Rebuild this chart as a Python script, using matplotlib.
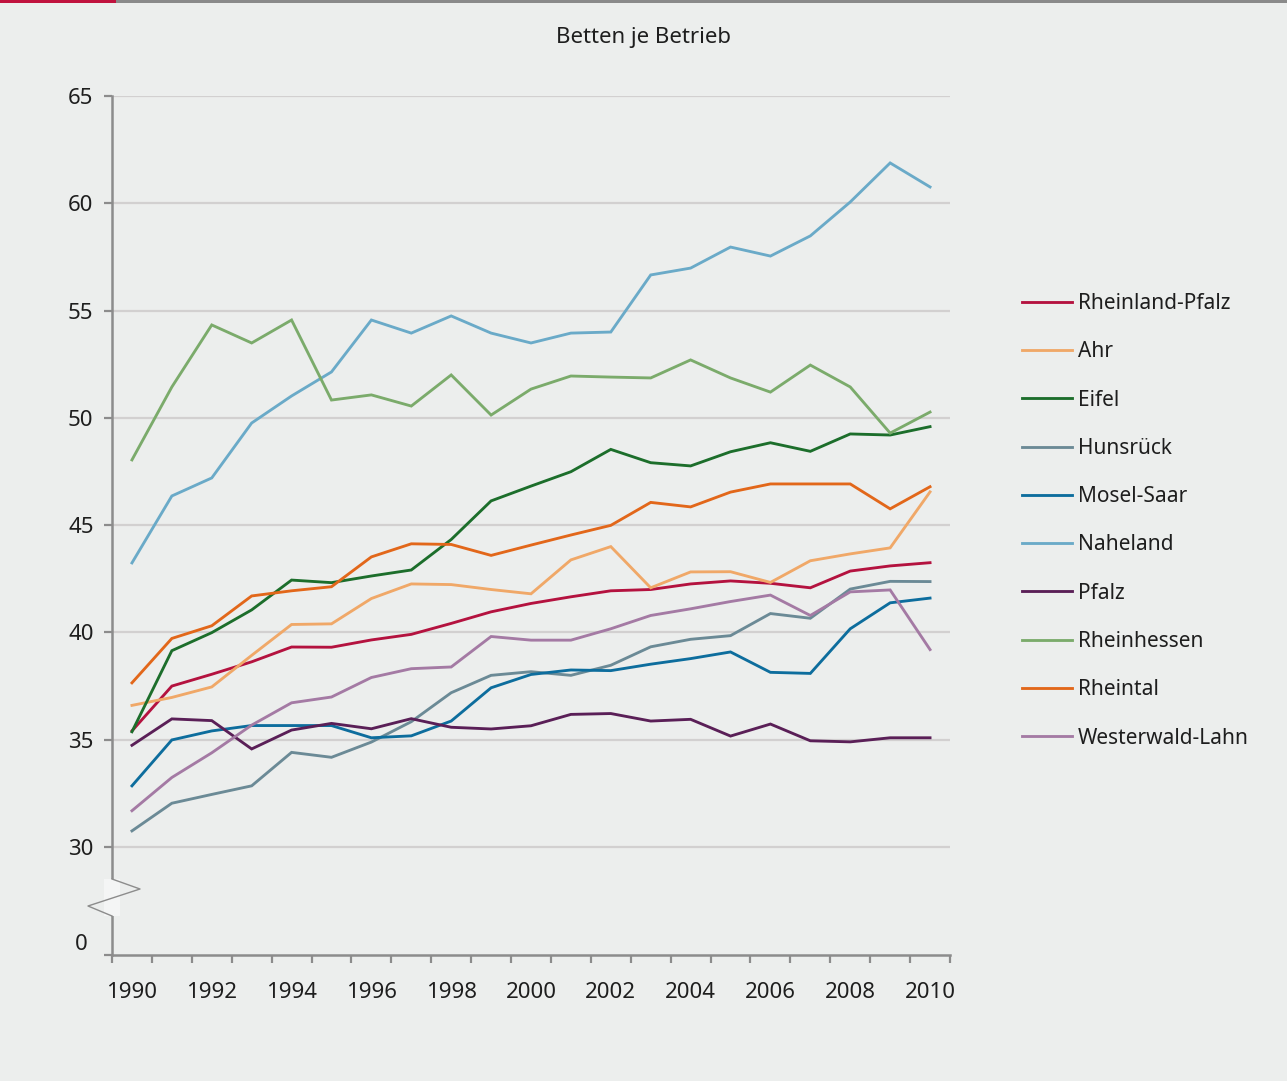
import matplotlib
matplotlib.use("Agg")
import matplotlib.pyplot as plt
from matplotlib.lines import Line2D
from matplotlib.patches import Rectangle
import numpy as np

plt.rcParams['font.family'] = ['Noto Sans', 'DejaVu Sans']

years = list(range(1990, 2011))

rheinland_pfalz = [35.41, 37.50, 38.05, 38.63, 39.32, 39.31, 39.65, 39.91, 40.42, 40.96, 41.35,
                   41.66, 41.94, 42.00, 42.26, 42.40, 42.29, 42.08, 42.86, 43.10, 43.25]
ahr = [36.60, 36.97, 37.46, 38.93, 40.37, 40.40, 41.58, 42.26, 42.23, 42.00, 41.80,
       43.38, 44.00, 42.08, 42.82, 42.83, 42.33, 43.34, 43.66, 43.94, 46.55]
eifel = [35.37, 39.15, 39.99, 41.05, 42.44, 42.32, 42.63, 42.91, 44.33, 46.13, 46.82,
         47.49, 48.53, 47.91, 47.76, 48.42, 48.84, 48.44, 49.25, 49.20, 49.59]
hunsrueck = [30.75, 32.04, 32.45, 32.85, 34.41, 34.18, 34.89, 35.84, 37.19, 38.00, 38.17,
             38.00, 38.47, 39.33, 39.68, 39.85, 40.88, 40.66, 42.02, 42.38, 42.37]
mosel_saar = [32.85, 34.99, 35.41, 35.66, 35.66, 35.66, 35.09, 35.18, 35.87, 37.42, 38.04,
              38.25, 38.22, 38.52, 38.78, 39.09, 38.14, 38.09, 40.17, 41.38, 41.60]
naheland = [43.24, 46.36, 47.20, 49.76, 51.02, 52.14, 54.56, 53.95, 54.75, 53.95, 53.49,
            53.95, 54.00, 56.66, 56.98, 57.96, 57.54, 58.48, 60.06, 61.88, 60.76]
pfalz = [34.74, 35.97, 35.89, 34.57, 35.45, 35.76, 35.51, 35.98, 35.58, 35.50, 35.65,
         36.18, 36.22, 35.87, 35.95, 35.17, 35.73, 34.95, 34.90, 35.09, 35.09]
rheinhessen = [48.04, 51.44, 54.33, 53.49, 54.56, 50.83, 51.07, 50.55, 52.00, 50.13, 51.34,
               51.95, 51.90, 51.86, 52.70, 51.86, 51.20, 52.46, 51.44, 49.29, 50.27]
rheintal = [37.65, 39.72, 40.31, 41.70, 41.94, 42.13, 43.52, 44.13, 44.10, 43.59, 44.07,
            44.54, 44.99, 46.06, 45.85, 46.54, 46.92, 46.92, 46.92, 45.76, 46.79]
westerwald_lahn = [31.69, 33.24, 34.39, 35.68, 36.72, 36.99, 37.90, 38.31, 38.39, 39.81, 39.64,
                   39.64, 40.17, 40.79, 41.10, 41.44, 41.74, 40.79, 41.89, 41.98, 39.20]

series_names = ["Rheinland-Pfalz", "Ahr", "Eifel", "Hunsrück", "Mosel-Saar", "Naheland",
                "Pfalz", "Rheinhessen", "Rheintal", "Westerwald-Lahn"]
series_values = [rheinland_pfalz, ahr, eifel, hunsrueck, mosel_saar, naheland,
                 pfalz, rheinhessen, rheintal, westerwald_lahn]
series_colors = ["#b4123f", "#f0a868", "#1c6e2b", "#6b8a96", "#0d6d9d", "#6aaac8",
                 "#5a1f57", "#7bab6b", "#e2671a", "#a47aa4"]

y_ticks = [30, 35, 40, 45, 50, 55, 60, 65]
x_label_years = list(range(1990, 2011, 2))
title = "Betten je Betrieb"

W, H = 1287, 1081
BG = "#eceeed"
AXC = "#8c8c8c"
TXT = "#1e1e1e"

fig = plt.figure(figsize=(W / 100, H / 100), dpi=100, facecolor=BG)

def fx(px):
    return px / W

def fy(py):
    return 1 - py / H

ax = fig.add_axes([fx(112), fy(955), fx(950) - fx(112), fy(96) - fy(955)])
ax.set_facecolor(BG)

PX_PER_UNIT = 751 / 35
y_bottom = 30 - (955 - 847) / PX_PER_UNIT
ax.set_xlim(1989.5, 2010.5)
ax.set_ylim(y_bottom, 65)

for yt in y_ticks:
    ax.axhline(yt, color="#d2d0d0", lw=1.6, zorder=1)

for name, vals, col in zip(series_names, series_values, series_colors):
    ax.plot(years, vals, color=col, lw=2.05, label=name, zorder=3,
            solid_joinstyle="miter")

for s in ["top", "right"]:
    ax.spines[s].set_visible(False)
for s in ["left", "bottom"]:
    ax.spines[s].set_color(AXC)
    ax.spines[s].set_linewidth(1.8)
    ax.spines[s].set_zorder(4)

ax.set_yticks(y_ticks)
ax.set_yticklabels([str(v) for v in y_ticks])
ax.set_yticks([y_bottom], minor=True)
ax.tick_params(axis="y", which="both", direction="out", length=5.8, width=1.6,
               color=AXC, labelsize=16, labelcolor=TXT, pad=7.5)

ax.set_xticks(x_label_years)
ax.set_xticklabels([str(v) for v in x_label_years])
ax.set_xticks(np.arange(1989.5, 2011.0, 1.0), minor=True)
ax.tick_params(axis="x", which="major", length=0, labelsize=16, labelcolor=TXT, pad=19.5)
ax.tick_params(axis="x", which="minor", direction="out", length=5.8, width=1.6, color=AXC)

# "0" label below the axis break
ax.text(-0.029, 30 - 98 / PX_PER_UNIT, "0", transform=ax.get_yaxis_transform(),
        ha="right", va="center", fontsize=16, color=TXT)

# axis break symbol
fig.add_artist(Rectangle((fx(104), fy(916)), fx(120) - fx(104), fy(879) - fy(916),
                         transform=fig.transFigure, facecolor="#f4f5f5", edgecolor="none",
                         zorder=5))
fig.add_artist(Line2D([fx(112), fx(140), fx(88), fx(112)],
                      [fy(879), fy(889), fy(906), fy(916)],
                      transform=fig.transFigure, color=AXC, lw=1.0, zorder=6))

# top bar
fig.add_artist(Rectangle((0, fy(3)), 1, fy(0) - fy(3), transform=fig.transFigure,
                         facecolor="#8a8a8a", edgecolor="none"))
fig.add_artist(Rectangle((0, fy(3)), fx(116), fy(0) - fy(3), transform=fig.transFigure,
                         facecolor="#c0123e", edgecolor="none"))

fig.text(0.5, fy(38), title, ha="center", va="center", fontsize=16, color=TXT)

leg = fig.legend(loc="upper left", bbox_to_anchor=(fx(1022), fy(293)),
                 frameon=False, fontsize=15, handlelength=2.4, handletextpad=0.3,
                 labelspacing=1.31, borderpad=0, borderaxespad=0)
for t in leg.get_texts():
    t.set_color(TXT)
for l in leg.get_lines():
    l.set_linewidth(2.05)

fig.savefig("out.png", dpi=100, facecolor=BG)
